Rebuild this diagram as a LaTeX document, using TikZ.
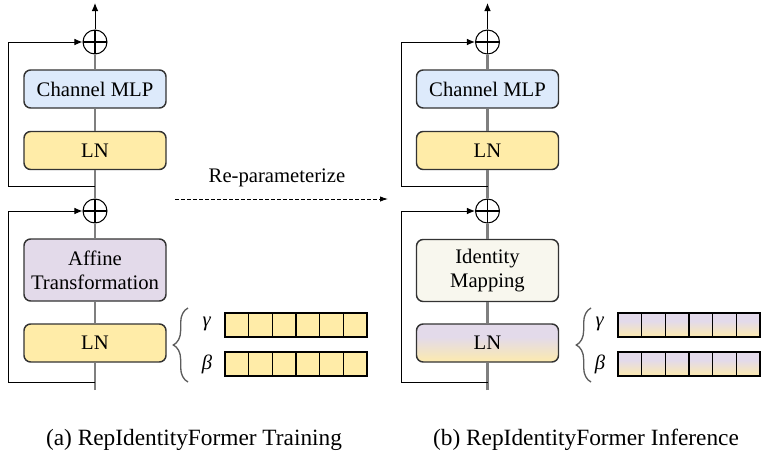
\documentclass[tikz,border=0pt]{standalone}
\usepackage{fontspec}
\setmainfont{Liberation Serif}
\usetikzlibrary{arrows.meta,decorations.pathreplacing,positioning}

\definecolor{mlpblue}{HTML}{DDEAFB}
\definecolor{lnyellow}{HTML}{FFECA8}
\definecolor{affpurple}{HTML}{E3DAEA}
\definecolor{idgray}{HTML}{F8F7EE}
\definecolor{boxgray}{HTML}{333333}
\definecolor{flowgray}{HTML}{7F7F7F}

% purple on top, yellow at the bottom
\pgfdeclareverticalshading{lnmix}{100bp}{color(0bp)=(lnyellow); color(22bp)=(lnyellow);
    color(58bp)=(affpurple); color(100bp)=(affpurple)}

\tikzset{
    block/.style={draw=boxgray, line width=1.1pt, rounded corners=5pt, align=center,
        minimum width=106.5pt, minimum height=28.5pt, inner sep=0pt,
        font=\fontsize{15.5pt}{18pt}\selectfont},
    tallblock/.style={block, minimum height=46.5pt},
    addop/.style={draw=black, line width=0.8pt, circle, minimum size=18pt, inner sep=0pt,
        path picture={\draw[line width=0.8pt] (path picture bounding box.north) -- (path picture bounding box.south)
            (path picture bounding box.west) -- (path picture bounding box.east);}},
    cell/.style={draw=black, line width=0.8pt, minimum width=17.75pt, minimum height=18pt, inner sep=0pt},
    flow/.style={draw=flowgray, line width=1.6pt},
    skip/.style={draw=black, line width=0.75pt},
    lbl/.style={font=\fontsize{15.5pt}{18pt}\selectfont},
    caption/.style={font=\fontsize{17.5pt}{20pt}\selectfont},
}

\begin{document}
\begin{tikzpicture}[x=0.75pt, y=-0.75pt]
    \useasboundingbox (0,0) rectangle (768,461);

    % (a) training block
    \node[block, fill=mlpblue] (a-mlp) at (95,89) {Channel MLP};
    \node[block, fill=lnyellow] (a-ln1) at (95,150.5) {LN};
    \node[tallblock, fill=affpurple] (a-aff) at (95,270) {Affine\\Transformation};
    \node[block, fill=lnyellow] (a-ln2) at (95,343) {LN};
    \node[addop] (a-add1) at (95,42) {};
    \node[addop] (a-add2) at (95,211) {};
    \coordinate (a-in) at (95,390);
    \coordinate (a-out) at (95,3);
    \coordinate (a-split1) at (95,186);
    \coordinate (a-side1) at (8,186);
    \coordinate (a-split2) at (95,382);
    \coordinate (a-side2) at (8,382);

    \draw[flow] (a-in) -- (a-ln2) -- (a-aff) -- (a-add2) -- (a-ln1) -- (a-mlp) -- (a-add1);
    \draw[skip, -{Latex[length=6pt,width=5pt]}] (a-add1) -- (a-out);
    \draw[skip, -{Latex[length=6pt,width=5pt]}] (a-split1) -- (a-side1) |- (a-add1);
    \draw[skip, -{Latex[length=6pt,width=5pt]}] (a-split2) -- (a-side2) |- (a-add2);

    % (b) inference block
    \node[block, fill=mlpblue] (b-mlp) at (487.5,89) {Channel MLP};
    \node[block, fill=lnyellow] (b-ln1) at (487.5,150.5) {LN};
    \node[tallblock, fill=idgray] (b-id) at (487.5,270.5) {Identity\\Mapping};
    \node[block, shading=lnmix] (b-ln2) at (487.5,343) {LN};
    \node[addop] (b-add1) at (487.5,42) {};
    \node[addop] (b-add2) at (487.5,211) {};
    \coordinate (b-in) at (487.5,390);
    \coordinate (b-out) at (487.5,3);
    \coordinate (b-split1) at (487.5,186);
    \coordinate (b-side1) at (401,186);
    \coordinate (b-split2) at (487.5,382);
    \coordinate (b-side2) at (401,382);

    \draw[flow] (b-in) -- (b-ln2) -- (b-id) -- (b-add2) -- (b-ln1) -- (b-mlp) -- (b-add1);
    \draw[skip, -{Latex[length=6pt,width=5pt]}] (b-add1) -- (b-out);
    \draw[skip, -{Latex[length=6pt,width=5pt]}] (b-split1) -- (b-side1) |- (b-add1);
    \draw[skip, -{Latex[length=6pt,width=5pt]}] (b-split2) -- (b-side2) |- (b-add2);

    % LN parameters
    \foreach \col/\bx/\cx in {a/188/225, b/591/618} {
        \draw[boxgray!80, line width=1pt, decorate, decoration={brace, amplitude=11pt}]
            (\bx,382) -- (\bx,308);
        \node[lbl] (\col-gamma) at (\cx-18,324) {\textit{γ}};
        \node[lbl] (\col-beta) at (\cx-18,364) {\textit{β}};
    }
    \foreach \i in {0,...,5} {
        \node[cell, fill=lnyellow] (a-g\i) at (225+11.83+23.67*\i,325) {};
        \node[cell, fill=lnyellow] (a-b\i) at (225+11.83+23.67*\i,364) {};
        \node[cell, shading=lnmix] (b-g\i) at (618+11.83+23.67*\i,325) {};
        \node[cell, shading=lnmix] (b-b\i) at (618+11.83+23.67*\i,364) {};
    }

    % re-parameterization arrow
    \coordinate (rep-from) at (175,199);
    \coordinate (rep-to) at (388,199);
    \draw[black, line width=0.6pt, dashed, dash pattern=on 3pt off 1.5pt, -{Latex[length=6pt,width=4pt]}] (rep-from) -- (rep-to);
    \node[lbl] (rep-text) at (277,178) {Re-parameterize};

    % captions
    \node[caption] (a-cap) at (194,440) {(a) RepIdentityFormer Training};
    \node[caption] (b-cap) at (586,440) {(b) RepIdentityFormer Inference};
\end{tikzpicture}
\end{document}
